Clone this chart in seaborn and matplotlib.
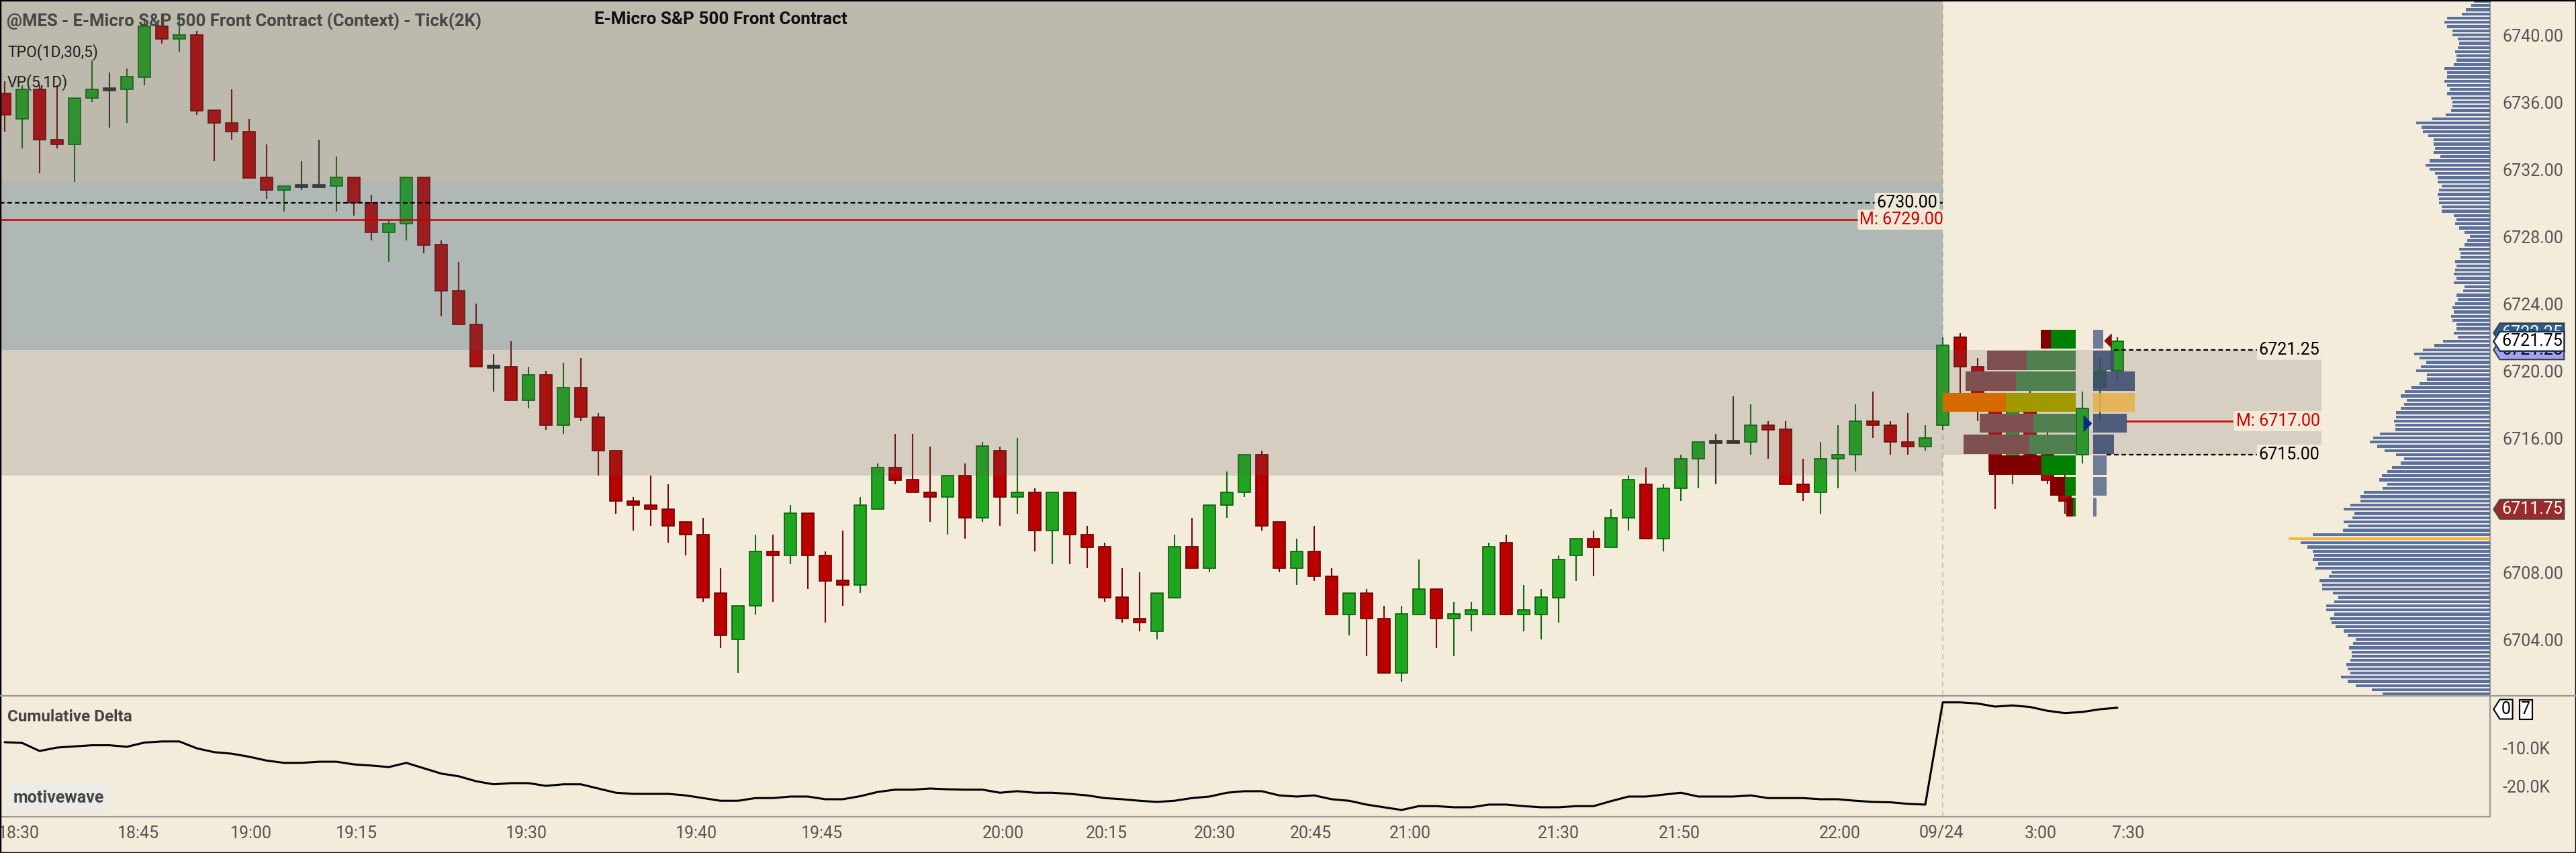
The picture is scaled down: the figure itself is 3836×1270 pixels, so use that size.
import numpy as np
import matplotlib
matplotlib.use("Agg")
import matplotlib.pyplot as plt
import matplotlib.colors as mcolors
import matplotlib.transforms as mtransforms
from matplotlib.lines import Line2D
from matplotlib.patches import Rectangle
from matplotlib.path import Path
import seaborn as sns

# ---- MES 2K-tick bars, 18:30 -> 07:30 ----
opens = [6736.5, 6735.0, 6736.75, 6733.75, 6733.5, 6736.25, 6736.75, 6736.75, 6737.5, 6740.5,
         6739.75, 6740.0, 6735.5, 6734.75, 6734.25, 6731.5, 6730.75, 6731.0, 6731.0, 6731.0,
         6731.5, 6730.0, 6728.25, 6728.75, 6731.5, 6727.5, 6724.75, 6722.75, 6720.25, 6720.25,
         6718.25, 6719.75, 6716.75, 6719.0, 6717.25, 6715.25, 6712.25, 6712.0, 6711.75, 6711.0,
         6710.25, 6706.75, 6704.0, 6706.0, 6709.25, 6709.0, 6711.5, 6709.0, 6707.5, 6707.25,
         6711.75, 6714.25, 6713.5, 6712.75, 6712.5, 6713.75, 6711.25, 6715.25, 6712.5, 6712.75,
         6710.5, 6712.75, 6710.25, 6709.5, 6706.5, 6705.25, 6704.5, 6706.5, 6709.5, 6708.25,
         6712.0, 6712.75, 6715.0, 6711.0, 6708.25, 6709.25, 6707.75, 6705.5, 6706.75, 6705.25,
         6702.0, 6705.5, 6707.0, 6705.25, 6705.5, 6705.5, 6709.75, 6705.5, 6705.5, 6706.5,
         6709.0, 6710.0, 6709.5, 6711.25, 6713.25, 6710.0, 6713.0, 6714.75, 6715.75, 6715.75,
         6715.75, 6716.75, 6716.5, 6713.25, 6712.75, 6714.75, 6715.0, 6717.0, 6716.75, 6715.75,
         6715.5, 6716.75, 6722.0, 6720.25, 6718.0, 6714.0, 6718.0, 6715.0, 6713.5, 6715.0,
         6719.0, 6720.0]
highs = [6737.25, 6737.0, 6737.0, 6737.0, 6736.25, 6738.5, 6737.75, 6738.0, 6741.0, 6741.25,
         6741.25, 6740.25, 6735.5, 6736.75, 6735.0, 6733.5, 6731.0, 6732.5, 6733.75, 6732.75,
         6731.5, 6730.5, 6729.0, 6731.5, 6731.5, 6727.75, 6726.5, 6724.0, 6721.0, 6721.75,
         6720.25, 6720.0, 6720.5, 6720.75, 6717.5, 6715.25, 6712.5, 6713.75, 6713.25, 6711.0,
         6711.25, 6708.25, 6706.0, 6710.25, 6710.25, 6712.0, 6711.5, 6709.25, 6710.5, 6712.5,
         6714.5, 6716.25, 6716.25, 6715.5, 6713.75, 6714.5, 6715.75, 6715.5, 6716.0, 6713.0,
         6712.75, 6712.75, 6710.75, 6709.75, 6708.25, 6708.0, 6706.75, 6710.25, 6711.25, 6712.0,
         6714.0, 6715.0, 6715.25, 6711.0, 6710.0, 6710.75, 6708.25, 6706.75, 6707.0, 6706.0,
         6706.0, 6708.75, 6707.0, 6706.25, 6706.25, 6709.75, 6710.25, 6707.25, 6707.0, 6709.0,
         6710.0, 6710.5, 6711.75, 6713.75, 6714.25, 6713.25, 6715.0, 6715.75, 6716.25, 6718.5,
         6718.0, 6717.0, 6717.0, 6714.75, 6715.75, 6716.75, 6718.0, 6718.75, 6717.0, 6717.5,
         6716.75, 6722.0, 6722.25, 6720.75, 6718.5, 6718.5, 6719.0, 6717.0, 6714.5, 6718.75,
         6720.75, 6722.0]
lows = [6734.25, 6733.25, 6731.75, 6733.25, 6731.25, 6736.0, 6734.5, 6734.75, 6737.0, 6739.5,
        6739.0, 6735.25, 6732.5, 6733.75, 6731.5, 6730.25, 6729.5, 6730.75, 6731.0, 6729.5,
        6729.25, 6727.75, 6726.5, 6727.75, 6727.0, 6723.25, 6722.75, 6720.25, 6718.75, 6718.25,
        6717.75, 6716.5, 6716.25, 6717.0, 6713.75, 6711.5, 6710.5, 6710.75, 6709.75, 6709.0,
        6706.25, 6703.5, 6702.0, 6705.5, 6706.25, 6708.5, 6707.0, 6705.0, 6706.0, 6706.75,
        6711.75, 6713.25, 6712.75, 6711.0, 6710.25, 6710.0, 6711.0, 6710.75, 6711.5, 6709.25,
        6708.5, 6708.5, 6708.25, 6706.25, 6705.0, 6704.5, 6704.0, 6706.5, 6708.25, 6708.0,
        6711.25, 6712.5, 6710.5, 6708.0, 6707.25, 6707.5, 6705.5, 6704.25, 6703.0, 6702.0,
        6701.5, 6705.5, 6703.5, 6703.0, 6704.5, 6705.5, 6705.5, 6704.5, 6704.0, 6705.0,
        6707.5, 6707.75, 6709.5, 6710.5, 6710.0, 6709.25, 6712.25, 6713.0, 6713.25, 6715.75,
        6715.0, 6714.75, 6713.25, 6712.25, 6711.5, 6713.0, 6714.0, 6716.0, 6715.0, 6715.0,
        6715.25, 6716.5, 6718.5, 6717.0, 6711.75, 6713.25, 6714.5, 6713.25, 6711.5, 6714.5,
        6717.0, 6719.5]
closes = [6735.25, 6736.75, 6733.75, 6733.5, 6736.25, 6736.75, 6736.75, 6737.5, 6740.5, 6739.75,
          6740.0, 6735.5, 6734.75, 6734.25, 6731.5, 6730.75, 6731.0, 6731.0, 6731.0, 6731.5,
          6730.0, 6728.25, 6728.75, 6731.5, 6727.5, 6724.75, 6722.75, 6720.25, 6720.25, 6718.25,
          6719.75, 6716.75, 6719.0, 6717.25, 6715.25, 6712.25, 6712.0, 6711.75, 6710.75, 6710.25,
          6706.5, 6704.25, 6706.0, 6709.25, 6709.0, 6711.5, 6709.0, 6707.5, 6707.25, 6712.0,
          6714.25, 6713.5, 6712.75, 6712.5, 6713.75, 6711.25, 6715.5, 6712.5, 6712.75, 6710.5,
          6712.75, 6710.25, 6709.5, 6706.5, 6705.25, 6705.0, 6706.75, 6709.5, 6708.25, 6712.0,
          6712.75, 6715.0, 6710.75, 6708.25, 6709.25, 6707.75, 6705.5, 6706.75, 6705.25, 6702.0,
          6705.5, 6707.0, 6705.25, 6705.5, 6705.75, 6709.5, 6705.5, 6705.75, 6706.5, 6708.75,
          6710.0, 6709.5, 6711.25, 6713.5, 6710.0, 6713.0, 6714.75, 6715.75, 6715.75, 6715.75,
          6716.75, 6716.5, 6713.25, 6712.75, 6714.75, 6715.0, 6717.0, 6716.75, 6715.75, 6715.5,
          6716.0, 6721.5, 6720.25, 6717.75, 6714.0, 6718.0, 6715.0, 6713.5, 6712.25, 6717.75,
          6720.0, 6721.75]

# cumulative delta per bar, in thousands
cum_delta_k = [-8.6, -8.8, -10.9, -10.0, -9.7, -9.4, -9.4, -9.8, -8.7, -8.4,
               -8.4, -10.2, -11.2, -11.6, -12.4, -13.4, -14.0, -14.0, -13.7, -13.7,
               -14.4, -14.7, -15.1, -14.0, -15.4, -16.8, -17.5, -18.8, -19.6, -19.3,
               -19.3, -20.0, -19.6, -19.6, -20.7, -21.8, -22.1, -22.1, -22.1, -22.5,
               -23.2, -23.9, -23.9, -23.2, -23.2, -22.8, -22.8, -23.5, -23.5, -22.7,
               -21.6, -21.0, -21.0, -20.7, -20.9, -21.0, -21.0, -21.8, -21.4, -21.8,
               -21.8, -22.1, -22.5, -23.2, -23.5, -23.9, -24.2, -23.9, -23.2, -22.8,
               -21.8, -21.4, -21.4, -22.5, -22.8, -22.5, -23.5, -23.9, -24.9, -25.6,
               -26.3, -25.3, -25.3, -25.6, -25.6, -24.9, -24.9, -25.3, -25.6, -25.6,
               -25.3, -25.3, -24.0, -22.8, -22.8, -22.3, -21.8, -22.8, -22.8, -22.8,
               -22.5, -23.2, -23.2, -23.2, -23.5, -23.5, -23.9, -24.2, -24.3, -24.7,
               -24.9, 1.8, 1.8, 1.5, 0.7, 1.0, 0.6, -0.4, -1.0, -0.7,
               0.0, 0.4]

time_pos = [0.8, 7.65, 14.1, 20.15, 29.9, 39.6, 46.8, 57.2, 63.1, 69.3, 74.8, 80.5,
            89.0, 95.9, 105.1, 110.9, 116.6, 121.6]
time_labels = ["18:30", "18:45", "19:00", "19:15", "19:30", "19:40", "19:45", "20:00",
               "20:15", "20:30", "20:45", "21:00", "21:30", "21:50", "22:00", "09/24",
               "3:00", "7:30"]

price_ticks = [6704, 6708, 6712, 6716, 6720, 6724, 6728, 6732, 6736, 6740]
delta_ticks = [-20000, -10000]
delta_tick_labels = ["-20.0K", "-10.0K"]

# context zones from the prior session
zone_lo = [6731.25, 6721.25, 6713.75]
zone_hi = [6745.0, 6731.25, 6721.25]
zone_colors = ["#bdb9ad", "#b0b8b6", "#d5cec0"]
prev_level = 6730.00
prev_mid = 6729.00

# TPO(1D,30,5) rows of the new session
tpo_lo = [6721.25, 6720.0, 6718.75, 6717.5, 6716.25, 6715.0, 6713.75, 6712.5, 6711.25]
tpo_sell = [0.6, 2.25, 2.9, 3.6, 3.1, 3.75, 3.0, 0.85, 0.4]
tpo_buy = [1.4, 2.8, 3.4, 4.0, 2.4, 2.65, 1.95, 0.6, 0.12]
tpo_vol = [0.58, 1.2, 2.4, 2.4, 1.95, 1.2, 0.77, 0.77, 0.2]
va_low, va_high, va_mid, tpo_poc = 6715.00, 6721.25, 6717.00, 6718.0

# VP(5,1D) volume at price, 0.25 steps from the top
vp_top = 6742.25
vp_upper = [20, 24, 28, 36, 42, 64, 68, 64, 56, 56, 48, 46, 48, 52, 50, 50, 54, 68, 64, 64,
            68, 64, 60, 64, 58, 56, 56, 58, 66, 86, 110, 102, 100, 92, 84, 84, 82, 84, 74, 90,
            96, 90, 82, 78, 78, 72, 76, 78, 76, 76, 72, 72, 54, 50, 52, 46, 38, 30, 34, 38,
            46, 44, 44, 52, 50, 52, 54, 50, 54, 38, 40, 50, 48, 52, 56, 54, 58, 56, 50, 50,
            54, 48]
vp_middle = [70, 83, 100, 113, 105, 95, 103, 110, 94, 94, 105, 117, 127, 133, 124, 128, 133,
             140, 140, 143, 141, 141, 164, 174, 179, 168, 157, 140, 128, 133, 146, 153, 161,
             165, 153, 160, 188, 193, 193, 208, 218, 202, 205, 218, 211, 219, 264, 300]
vp_lower = [282, 272, 264, 262, 264, 256, 260, 236, 240, 254, 250, 250, 234, 226, 232, 244,
            244, 232, 238, 236, 230, 218, 212, 200, 204, 210, 206, 206, 208, 214, 212, 208,
            222, 212, 200, 176, 160]
vp_poc = 6710.0

last_price = 6721.75
upper_tag = 6722.25
lower_tag = 6721.25
prior_close = 6711.75

# ---------------- layout ----------------
sns.set_theme(style="white")
plt.rcParams["font.family"] = ["Roboto", "DejaVu Sans"]

W, H = 3836, 1270
BG = "#f4ecdb"
AX_RIGHT, MAIN_BOTTOM, DELTA_BOTTOM = 3708, 1036, 1216
BAR_PX, BAR0_PX = 26, 7
XMIN = -BAR0_PX / BAR_PX
XMAX = (AX_RIGHT - BAR0_PX) / BAR_PX
SESSION = 111
TPO_RIGHT, VOLCOL_LEFT, VA_RIGHT = 118.6, 119.6, 132.7
GRAY = "#9a9a96"
TICK_COLOR = "#555555"
LABEL_SIZE = 18

fig = plt.figure(figsize=(W / 100, H / 100), dpi=100, facecolor=BG)
ax = fig.add_axes([0, 1 - MAIN_BOTTOM / H, AX_RIGHT / W, MAIN_BOTTOM / H])
axd = fig.add_axes([0, 1 - DELTA_BOTTOM / H, AX_RIGHT / W, (DELTA_BOTTOM - MAIN_BOTTOM) / H])
for a in (ax, axd):
    a.set_facecolor(BG)
    a.set_xlim(XMIN, XMAX)
    for s in ("left", "top", "bottom"):
        a.spines[s].set_visible(False)
    a.spines["right"].set_color(GRAY)
    a.spines["right"].set_linewidth(1.6)
    a.grid(False)
ax.set_ylim(6700.64, 6742.08)
axd.set_ylim(-28070, 3510)


def tag_box(x0, y0, width, height, mutation_size):
    pad = 0.1 * mutation_size
    x0, y0 = x0 - pad, y0 - pad
    x1, y1 = x0 + width + 2 * pad, y0 + height + 2 * pad
    tip = (y1 - y0) * 0.32
    verts = [(x0, y0), (x1, y0), (x1, y1), (x0, y1), (x0 - tip, (y0 + y1) / 2), (x0, y0)]
    codes = [Path.MOVETO] + [Path.LINETO] * 4 + [Path.CLOSEPOLY]
    return Path(verts, codes)


# ---- candles ----
o, h, l, c = (np.array(v) for v in (opens, highs, lows, closes))
idx = np.arange(len(o))
up, dn = c > o, c < o
flat = ~(up | dn)
body_col = np.where(up, "#1fa51f", np.where(dn, "#bb0000", "#2b2b2b")).tolist()
edge_col = np.where(up, "#0b5e0b", np.where(dn, "#680000", "#2b2b2b")).tolist()
wick_col = np.where(up, "#0c6a0c", np.where(dn, "#760808", "#2b2b2b")).tolist()
b_lo = np.where(flat, o - 0.08, np.minimum(o, c))
b_h = np.where(flat, 0.16, np.abs(c - o))
ax.vlines(idx, l, h, colors=wick_col, lw=1.5, zorder=2)
ax.bar(idx, b_h, bottom=b_lo, width=0.7, color=body_col, edgecolor=edge_col,
       linewidth=1.2, zorder=2.1)

# ---- context zones: opaque base + translucent veil over the candles ----
veils = ["#5f5f5a", "#506e78", "#5f5f5a"]
veil_alpha = [0.28, 0.28, 0.2]
for lo, hi, tgt, ov, a in zip(zone_lo, zone_hi, zone_colors, veils, veil_alpha):
    t = np.array(mcolors.to_rgb(tgt))
    v = np.array(mcolors.to_rgb(ov))
    base = np.clip((t - a * v) / (1 - a), 0, 1)
    ax.fill_between([XMIN, SESSION], lo, hi, color=base, lw=0, zorder=0.5)
    ax.fill_between([XMIN, SESSION], lo, hi, color=v, alpha=a, lw=0, zorder=2.5)

ax.hlines(prev_level, XMIN, SESSION, colors="black", linestyles=(0, (3, 2)), lw=1.6, zorder=4)
ax.hlines(prev_mid, XMIN, SESSION - 4, colors="#cc0000", lw=1.8, zorder=4)
lab_box = dict(boxstyle="round,pad=0.12", fc=BG, ec="none", alpha=0.95)
ax.text(SESSION - 0.3, prev_level, f"{prev_level:.2f}", ha="right", va="center",
        fontsize=LABEL_SIZE, color="black", bbox=lab_box, zorder=5)
ax.text(SESSION + 0.05, prev_mid, f"M: {prev_mid:.2f}", ha="right", va="center",
        fontsize=LABEL_SIZE, color="#cc0000", bbox=lab_box, zorder=5)

# session separator
for a in (ax, axd):
    a.axvline(SESSION, color="#c9c3b7", lw=1.4, ls=(0, (4, 3)), zorder=1.5)

# ---- new-session value area and TPO profile ----
ax.fill_between([SESSION, VA_RIGHT], va_low, va_high, color="#645f5a", alpha=0.2, lw=0, zorder=2.6)
lo_arr = np.array(tpo_lo)
sell_c, buy_c, vol_c = [], [], []
for lo in tpo_lo:
    if lo <= tpo_poc < lo + 1.25:
        sell_c.append("#d46a00"); buy_c.append("#a09a00"); vol_c.append("#e8b04c")
    elif va_low <= lo < va_high:
        sell_c.append("#7f5050"); buy_c.append("#508050"); vol_c.append("#3e4c70")
    else:
        sell_c.append("#800000"); buy_c.append("#008000"); vol_c.append("#5d6b8e")
buy = np.array(tpo_buy)
sell = np.array(tpo_sell)
ax.barh(lo_arr + 0.625, buy, left=TPO_RIGHT - buy, height=1.14, color=buy_c, lw=0, zorder=3)
ax.barh(lo_arr + 0.625, sell, left=TPO_RIGHT - buy - sell, height=1.14, color=sell_c, lw=0, zorder=3)
ax.barh(lo_arr + 0.625, tpo_vol, left=VOLCOL_LEFT, height=1.14, color=vol_c, alpha=0.88, lw=0, zorder=3)

ax.plot([119.25], [6716.9], marker=[(-0.5, -1), (0.5, 0), (-0.5, 1)], ms=17,
        color="#0b2a8a", ls="none", zorder=4.5)
ax.plot([120.45], [6721.8], marker=[(0.5, -1), (-0.5, 0), (0.5, 1)], ms=15,
        color="#8a0a0a", ls="none", zorder=4.5)

ax.hlines(va_high, 120.8, 129.0, colors="black", linestyles=(0, (3, 2)), lw=1.6, zorder=4)
ax.hlines(va_low, 120.4, 129.0, colors="black", linestyles=(0, (3, 2)), lw=1.6, zorder=4)
ax.hlines(va_mid, 121.5, 127.6, colors="#cc0000", lw=1.8, zorder=4)
ax.text(VA_RIGHT - 0.1, va_high, f"{va_high:.2f}", ha="right", va="center",
        fontsize=LABEL_SIZE, color="black", bbox=lab_box, zorder=5)
ax.text(VA_RIGHT - 0.1, va_low, f"{va_low:.2f}", ha="right", va="center",
        fontsize=LABEL_SIZE, color="black", bbox=lab_box, zorder=5)
ax.text(VA_RIGHT - 0.1, va_mid, f"M: {va_mid:.2f}", ha="right", va="center",
        fontsize=LABEL_SIZE, color="#cc0000", bbox=lab_box, zorder=5)

# ---- VP(5,1D) volume profile on the right edge ----
axv = ax.inset_axes([0, 0, 1, 1], sharey=ax, zorder=3)
vp_volume = np.array(vp_upper + vp_middle + vp_lower, dtype=float)
vp_price = vp_top - 0.25 * np.arange(len(vp_volume))
is_poc = np.isclose(vp_price, vp_poc)
axv.barh(vp_price, vp_volume, height=np.where(is_poc, 0.13, 0.17),
         color=np.where(is_poc, "#f5b942", "#5a70a0").tolist(), lw=0)
axv.set_xlim(AX_RIGHT, 0)
axv.axis("off")

# ---- price axis ----
ax.set_xticks([])
ax.yaxis.tick_right()
ax.set_yticks(price_ticks)
ax.set_yticklabels([f"{p:.2f}" for p in price_ticks])
ax.tick_params(axis="y", length=0, pad=13, labelsize=18, labelcolor=TICK_COLOR)

blend = mtransforms.blended_transform_factory(ax.transAxes, ax.transData)
ax.text(1.0046, upper_tag, f"{upper_tag:.2f}", transform=blend, ha="left", va="center",
        fontsize=18, color="white", clip_on=False, zorder=6,
        bbox=dict(boxstyle=tag_box, fc="#2e5d8a", ec="#3a3a3a", lw=1.5))
ax.text(1.0046, lower_tag, f"{lower_tag:.2f}", transform=blend, ha="left", va="center",
        fontsize=18, color="black", clip_on=False, zorder=6.1,
        bbox=dict(boxstyle=tag_box, fc="#a3a3f5", ec="#3a3a3a", lw=1.5))
ax.text(1.0046, last_price, f"{last_price:.2f}", transform=blend, ha="left", va="center",
        fontsize=18, color="black", clip_on=False, zorder=6.2,
        bbox=dict(boxstyle=tag_box, fc="white", ec="#1f3550", lw=1.8))
ax.text(1.0046, prior_close, f"{prior_close:.2f}", transform=blend, ha="left", va="center",
        fontsize=18, color="white", clip_on=False, zorder=6,
        bbox=dict(boxstyle=tag_box, fc="#9b2b2b", ec="#4a4a4a", lw=1.5))

# ---- cumulative delta ----
sns.lineplot(x=idx, y=np.array(cum_delta_k) * 1000, ax=axd, color="black", linewidth=2.2)
axd.set_xlabel("")
axd.set_ylabel("")
axd.spines["bottom"].set_visible(True)
axd.spines["bottom"].set_color(GRAY)
axd.spines["bottom"].set_linewidth(1.6)
axd.yaxis.tick_right()
axd.set_yticks(delta_ticks)
axd.set_yticklabels(delta_tick_labels)
axd.set_xticks(time_pos)
axd.set_xticklabels(time_labels)
axd.tick_params(axis="x", length=0, pad=9, labelsize=18, labelcolor=TICK_COLOR)
axd.tick_params(axis="y", length=0, pad=13, labelsize=18, labelcolor=TICK_COLOR)
dblend = mtransforms.blended_transform_factory(axd.transAxes, axd.transData)
axd.text(1.0046, 0, "0", transform=dblend, ha="left", va="center", fontsize=18,
         color="black", clip_on=False, zorder=6,
         bbox=dict(boxstyle=tag_box, fc="white", ec="black", lw=1.5))
axd.text(1.0125, 0, "7", transform=dblend, ha="left", va="center", fontsize=18,
         color="black", clip_on=False, zorder=6,
         bbox=dict(boxstyle="square,pad=0.1", fc="white", ec="black", lw=1.5))

# ---- frame and headers ----
fig.add_artist(Line2D([0, 1], [1 - MAIN_BOTTOM / H] * 2, transform=fig.transFigure,
                      color=GRAY, lw=1.6))
fig.add_artist(Rectangle((0, 0), 1, 1, transform=fig.transFigure, fill=False,
                         ec="black", lw=2.5))


def fx(px):
    return px / W


def fy(py):
    return 1 - py / H


fig.text(fx(10), fy(32), "@MES - E-Micro S&P 500 Front Contract (Context) - Tick(2K)",
         fontsize=18.5, fontweight="bold", color="#474747", va="center", ha="left")
fig.text(fx(885), fy(29), "E-Micro S&P 500 Front Contract", fontsize=18.8,
         fontweight="bold", color="#111111", va="center", ha="left")
fig.text(fx(11), fy(78), "TPO(1D,30,5)", fontsize=16.5, color="#1e1e1e", va="center")
fig.text(fx(11), fy(123), "VP(5,1D)", fontsize=16.5, color="#1e1e1e", va="center")
fig.text(fx(11), fy(1068), "Cumulative Delta", fontsize=17.5, fontweight="bold",
         color="#444444", va="center")
fig.text(fx(20), fy(1188), "motivewave", fontsize=18, fontweight="bold", color="#444444",
         va="center", bbox=dict(boxstyle="round,pad=0.35", fc="#ebebe7", ec="none"))

fig.savefig("out.png", dpi=100, facecolor=BG)
